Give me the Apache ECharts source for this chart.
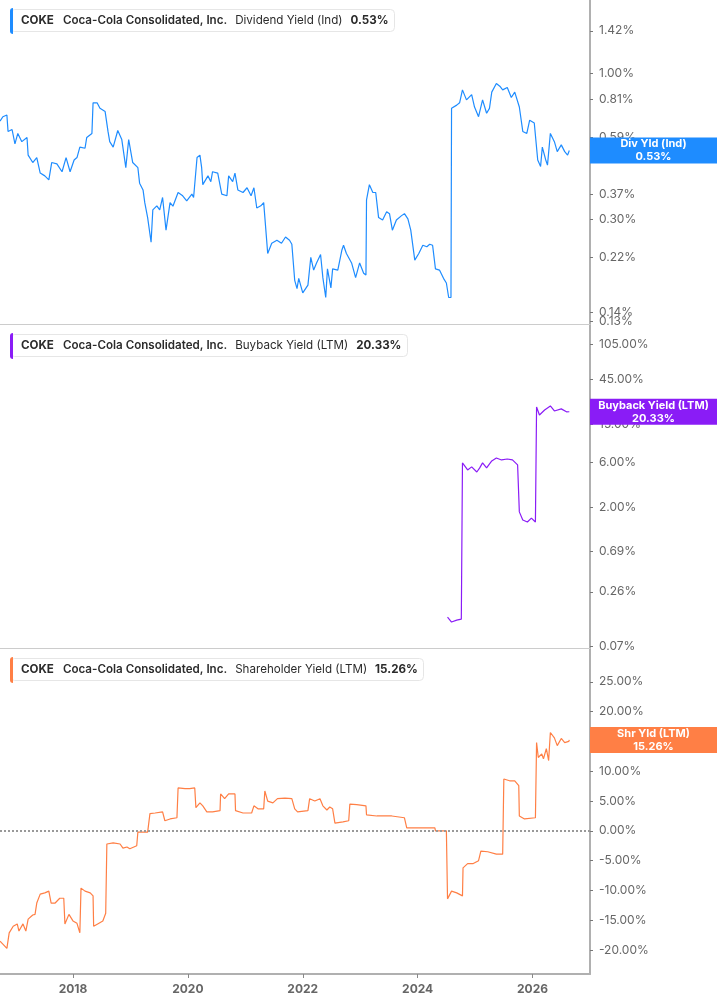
<!DOCTYPE html>
<html>
<head>
<meta charset="UTF-8" />
<title>COKE yields</title>
<script src="https://cdn.jsdelivr.net/npm/echarts@6.0.0/dist/echarts.min.js"></script>
<style>html, body { margin: 0; padding: 0; background: #fff; }</style>
</head>
<body>
<div id="chart" style="width: 717px; height: 1005px"></div>
<script>
const ticker = 'COKE';
const company = 'Coca-Cola Consolidated, Inc.';
const yearTicks = [2018, 2020, 2022, 2024, 2026];
const divTicks = [0.13, 0.14, 0.22, 0.30, 0.37, 0.59, 0.81, 1.00, 1.42];
const buybackTicks = [0.07, 0.26, 0.69, 2, 6, 15, 45, 105];
const shrTicks = [-20, -15, -10, -5, 0, 5, 10, 15, 20, 25];

// [decimal year, yield %]
const divYld = [[2016.73,0.675],[2016.78,0.70],[2016.85,0.71],[2016.87,0.62],[2016.94,0.63],[2016.99,0.56],[2017.04,0.61],[2017.11,0.57],[2017.20,0.59],[2017.22,0.51],[2017.30,0.48],[2017.37,0.50],[2017.43,0.44],[2017.51,0.43],[2017.58,0.416],[2017.63,0.48],[2017.72,0.475],[2017.81,0.445],[2017.88,0.50],[2017.95,0.445],[2018.02,0.49],[2018.07,0.50],[2018.12,0.545],[2018.21,0.54],[2018.24,0.59],[2018.33,0.61],[2018.35,0.785],[2018.42,0.785],[2018.47,0.75],[2018.56,0.73],[2018.61,0.62],[2018.64,0.57],[2018.70,0.545],[2018.78,0.625],[2018.85,0.58],[2018.92,0.46],[2018.97,0.58],[2019.04,0.48],[2019.13,0.46],[2019.16,0.405],[2019.22,0.383],[2019.25,0.345],[2019.30,0.305],[2019.36,0.249],[2019.39,0.325],[2019.46,0.336],[2019.51,0.325],[2019.56,0.36],[2019.62,0.275],[2019.69,0.345],[2019.74,0.335],[2019.83,0.375],[2019.91,0.365],[2019.98,0.35],[2020.07,0.37],[2020.10,0.36],[2020.16,0.50],[2020.21,0.51],[2020.24,0.46],[2020.26,0.40],[2020.35,0.43],[2020.40,0.41],[2020.43,0.445],[2020.52,0.44],[2020.59,0.37],[2020.68,0.365],[2020.71,0.43],[2020.78,0.41],[2020.82,0.44],[2020.87,0.383],[2020.96,0.375],[2021.03,0.39],[2021.10,0.365],[2021.15,0.39],[2021.20,0.33],[2021.27,0.336],[2021.32,0.345],[2021.39,0.227],[2021.46,0.247],[2021.55,0.253],[2021.63,0.247],[2021.70,0.26],[2021.77,0.253],[2021.81,0.245],[2021.86,0.182],[2021.90,0.17],[2021.93,0.185],[2022.00,0.164],[2022.09,0.175],[2022.14,0.22],[2022.19,0.198],[2022.24,0.21],[2022.31,0.225],[2022.35,0.186],[2022.40,0.158],[2022.43,0.20],[2022.49,0.171],[2022.52,0.20],[2022.61,0.198],[2022.68,0.233],[2022.71,0.243],[2022.76,0.227],[2022.85,0.21],[2022.92,0.186],[2022.99,0.21],[2023.06,0.193],[2023.10,0.19],[2023.11,0.353],[2023.16,0.40],[2023.22,0.375],[2023.27,0.375],[2023.32,0.305],[2023.39,0.299],[2023.46,0.32],[2023.51,0.315],[2023.56,0.275],[2023.63,0.299],[2023.72,0.31],[2023.77,0.315],[2023.83,0.302],[2023.88,0.275],[2023.95,0.215],[2024.02,0.227],[2024.09,0.243],[2024.16,0.24],[2024.21,0.245],[2024.26,0.243],[2024.31,0.20],[2024.38,0.198],[2024.45,0.185],[2024.50,0.178],[2024.54,0.158],[2024.58,0.158],[2024.59,0.75],[2024.68,0.77],[2024.73,0.785],[2024.78,0.873],[2024.85,0.804],[2024.94,0.84],[2024.99,0.758],[2025.06,0.70],[2025.13,0.804],[2025.20,0.72],[2025.25,0.75],[2025.29,0.857],[2025.37,0.92],[2025.43,0.90],[2025.48,0.873],[2025.56,0.89],[2025.63,0.82],[2025.69,0.857],[2025.77,0.758],[2025.83,0.62],[2025.90,0.61],[2025.95,0.68],[2026.03,0.665],[2026.09,0.49],[2026.14,0.465],[2026.17,0.545],[2026.23,0.49],[2026.26,0.47],[2026.31,0.61],[2026.38,0.57],[2026.43,0.525],[2026.50,0.555],[2026.56,0.525],[2026.61,0.51],[2026.64,0.53]];

const buybackYld = [[2024.52,0.141],[2024.59,0.125],[2024.68,0.131],[2024.76,0.134],[2024.78,5.89],[2024.87,4.97],[2024.94,5.35],[2025.03,4.73],[2025.08,5.22],[2025.13,5.89],[2025.20,5.22],[2025.29,6.18],[2025.37,6.64],[2025.46,6.33],[2025.56,6.48],[2025.65,6.33],[2025.74,5.61],[2025.77,1.80],[2025.83,1.48],[2025.91,1.41],[2025.98,1.55],[2026.05,1.41],[2026.07,22.8],[2026.12,18.8],[2026.21,21.2],[2026.31,23.4],[2026.38,20.7],[2026.50,21.8],[2026.59,20.3],[2026.64,20.33]];

const shrYld = [[2016.73,-18.5],[2016.78,-19.0],[2016.85,-19.7],[2016.89,-17.1],[2016.96,-16.0],[2017.03,-15.6],[2017.06,-16.8],[2017.13,-15.6],[2017.18,-16.8],[2017.22,-14.8],[2017.30,-14.1],[2017.34,-14.0],[2017.37,-12.1],[2017.43,-10.6],[2017.51,-10.4],[2017.58,-10.1],[2017.62,-12.1],[2017.69,-12.1],[2017.77,-11.3],[2017.84,-11.3],[2017.86,-15.6],[2017.93,-14.0],[2018.00,-15.1],[2018.07,-15.5],[2018.12,-17.1],[2018.14,-9.6],[2018.21,-10.1],[2018.30,-10.4],[2018.35,-10.9],[2018.36,-16.0],[2018.43,-15.6],[2018.52,-15.1],[2018.57,-13.8],[2018.59,-2.2],[2018.70,-2.0],[2018.82,-2.2],[2018.87,-2.9],[2018.94,-2.7],[2018.99,-3.0],[2019.11,-2.5],[2019.13,-0.2],[2019.30,-0.2],[2019.34,2.9],[2019.43,3.0],[2019.56,3.2],[2019.60,1.7],[2019.69,2.0],[2019.81,2.2],[2019.83,7.2],[2019.95,7.1],[2020.03,7.1],[2020.12,7.2],[2020.14,3.9],[2020.21,4.7],[2020.26,4.2],[2020.33,3.2],[2020.43,3.2],[2020.56,3.4],[2020.57,6.2],[2020.64,5.4],[2020.71,6.2],[2020.82,6.2],[2020.83,3.4],[2020.96,3.0],[2021.11,3.0],[2021.15,4.2],[2021.22,3.7],[2021.32,3.7],[2021.34,6.7],[2021.39,5.0],[2021.48,4.7],[2021.56,5.4],[2021.69,5.5],[2021.81,5.4],[2021.86,3.7],[2021.91,3.2],[2022.09,3.4],[2022.12,5.4],[2022.21,5.0],[2022.30,5.4],[2022.35,4.2],[2022.42,3.5],[2022.47,4.0],[2022.52,3.7],[2022.56,1.3],[2022.70,1.5],[2022.80,1.7],[2022.82,4.5],[2022.94,4.4],[2023.10,4.2],[2023.11,2.7],[2023.29,2.5],[2023.39,2.5],[2023.55,2.5],[2023.56,2.2],[2023.77,2.2],[2023.81,0.5],[2024.03,0.5],[2024.30,0.5],[2024.31,0.0],[2024.50,0.0],[2024.52,-11.4],[2024.59,-10.1],[2024.68,-10.4],[2024.78,-10.9],[2024.79,-6.2],[2024.87,-5.5],[2024.96,-5.5],[2025.06,-5.0],[2025.10,-3.4],[2025.22,-3.5],[2025.37,-3.9],[2025.48,-3.9],[2025.50,8.7],[2025.60,8.4],[2025.69,8.4],[2025.76,7.6],[2025.77,2.5],[2025.86,2.0],[2026.05,2.2],[2026.07,14.8],[2026.10,12.3],[2026.16,12.9],[2026.19,12.1],[2026.24,13.8],[2026.28,11.8],[2026.31,16.5],[2026.38,15.6],[2026.43,14.3],[2026.50,15.5],[2026.56,14.8],[2026.63,15.0],[2026.64,15.26]];

const panels = [
  { name: 'Dividend Yield (Ind)', short: 'Div Yld (Ind)', color: '#1e8cff', data: divYld, ticks: divTicks, type: 'log', min: 0.127, max: 1.83 },
  { name: 'Buyback Yield (LTM)', short: 'Buyback Yield (LTM)', color: '#8a1cf6', data: buybackYld, ticks: buybackTicks, type: 'log', min: 0.0667, max: 166 },
  { name: 'Shareholder Yield (LTM)', short: 'Shr Yld (LTM)', color: '#ff7f45', data: shrYld, ticks: shrTicks, type: 'value', min: -24, max: 30.5 }
];
const gridTops = [0, 325, 649];
const gridHeights = [324, 323, 325];

const pct = v => v.toFixed(2) + '%';
const FONT = 'Inter';
const HFS = 11.6;

let myChart = echarts.init(document.getElementById('chart'));

const hdr = (weight, padLeft) => ({ fontFamily: FONT, fontSize: HFS, fontWeight: weight, color: '#2b2b2b', lineHeight: 15, padding: [0, 0, 0, padLeft] });

const yAxisFor = (p, i, ticks, withLine) => ({
  type: p.type, gridIndex: i, position: 'right', min: p.min, max: p.max,
  axisLine: { show: withLine, onZero: false, lineStyle: { color: '#b0b0b0', width: 2 } },
  axisTick: { show: true, length: 3, customValues: ticks, lineStyle: { color: '#777' } },
  axisLabel: {
    customValues: ticks, formatter: v => pct(v), hideOverlap: false, showMinLabel: true, showMaxLabel: true,
    color: '#666', fontFamily: FONT, fontSize: 12, margin: 9
  },
  splitLine: { show: false }
});

const yAxes = panels.map((p, i) => yAxisFor(p, i, p.ticks, true));
// 0.14% sits right on top of 0.13%; a second axis keeps both labels
yAxes.push(yAxisFor(panels[0], 0, [divTicks[1]], false));

const option = {
  animation: false,
  backgroundColor: '#fff',
  grid: panels.map((p, i) => ({ left: 0, right: 127, top: gridTops[i], height: gridHeights[i] })),
  title: panels.map((p, i) => ({
    left: 10, top: gridTops[i] + 8,
    padding: [5, 6, 5, 11],
    borderColor: '#e6e6e6', borderWidth: 1, borderRadius: 4,
    text: '{t|' + ticker + '}{c|' + company + '}{m|' + p.name + '}{v|' + pct(p.data[p.data.length - 1][1]) + '}',
    textStyle: {
      rich: { t: hdr('bold', 0), c: hdr(600, 9), m: hdr('normal', 8), v: hdr('bold', 8) }
    }
  })),
  graphic: panels.map((p, i) => ({
    type: 'rect', left: 10, top: gridTops[i] + 8,
    shape: { width: 3, height: 26, r: [3, 0, 0, 3] },
    style: { fill: p.color }, z: 100
  })),
  xAxis: panels.map((p, i) => ({
    type: 'value', gridIndex: i, min: 2016.73, max: 2027.0,
    axisLine: { show: true, onZero: false, lineStyle: i === 2 ? { color: '#b0b0b0', width: 2 } : { color: '#cccccc', width: 1 } },
    axisTick: i === 2 ? { show: true, length: 4, customValues: yearTicks, lineStyle: { color: '#888' } } : { show: false },
    axisLabel: i === 2 ? {
      show: true, customValues: yearTicks, formatter: v => String(v),
      color: '#666', fontFamily: FONT, fontSize: 12, fontWeight: 'bold', margin: 9
    } : { show: false },
    splitLine: { show: false }
  })),
  yAxis: yAxes,
  series: panels.map((p, i) => {
    const last = p.data[p.data.length - 1][1];
    const marks = [{
      yAxis: last,
      lineStyle: { color: 'rgba(0,0,0,0)', width: 0 },
      label: {
        show: true, position: 'end', distance: 0, opacity: 1,
        backgroundColor: p.color, padding: 0,
        formatter: '{a|' + p.short + '}\n{a|' + pct(last) + '}',
        rich: { a: { width: 127, align: 'center', color: '#fff', fontFamily: FONT, fontSize: 11, fontWeight: 'bold', lineHeight: 13 } }
      }
    }];
    if (i === 2) {
      marks.unshift({ yAxis: 0, lineStyle: { color: '#999', type: 'dotted', width: 2 }, label: { show: false } });
    }
    return {
      type: 'line', xAxisIndex: i, yAxisIndex: i, data: p.data,
      showSymbol: false, lineStyle: { color: p.color, width: 1.2 }, itemStyle: { color: p.color },
      markLine: { silent: true, symbol: ['none', 'none'], data: marks }
    };
  })
};

myChart.setOption(option);
</script>
</body>
</html>
